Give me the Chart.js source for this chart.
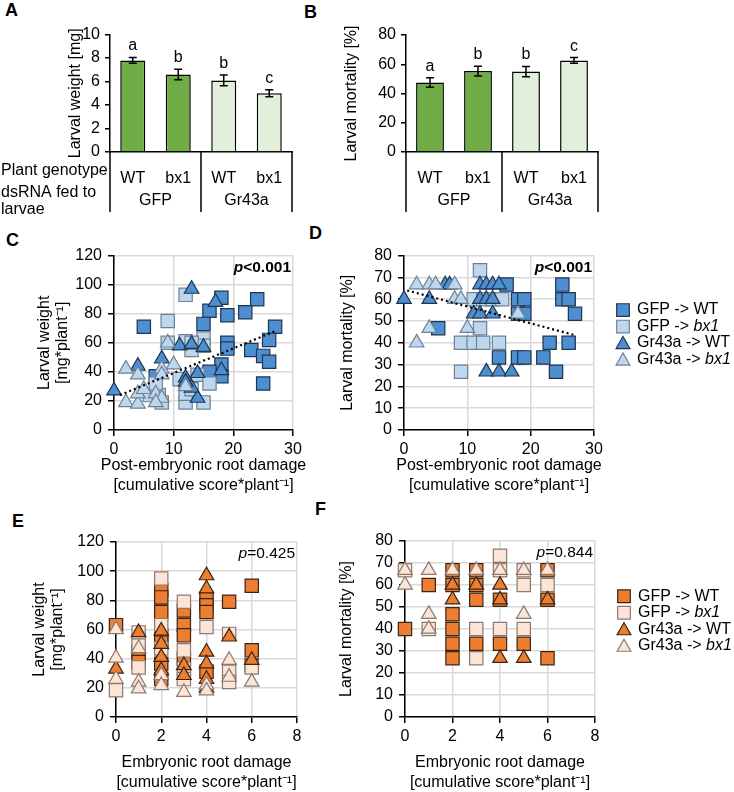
<!DOCTYPE html>
<html>
<head>
<meta charset="utf-8">
<script src="https://cdn.jsdelivr.net/npm/chart.js@4.4.1/dist/chart.umd.min.js"></script>
<style>
  body { margin: 0; background: #fff; width: 734px; height: 792px; position: relative; overflow: hidden; font-family: 'Liberation Sans', Arial, sans-serif; }
  canvas { position: absolute; }
  .tag { position: absolute; font-weight: bold; font-size: 18px; line-height: 1; }
</style>
</head>
<body>
<div class="tag" style="left:5px;top:1px">A</div>
<div class="tag" style="left:304px;top:3px">B</div>
<div class="tag" style="left:6px;top:231px">C</div>
<div class="tag" style="left:309px;top:224px">D</div>
<div class="tag" style="left:12px;top:512px">E</div>
<div class="tag" style="left:315px;top:500px">F</div>

<canvas id="chartA" width="300" height="200" style="left:0;top:20px"></canvas>
<canvas id="chartB" width="310" height="200" style="left:300px;top:20px"></canvas>
<canvas id="chartC" width="325" height="260" style="left:0;top:240px"></canvas>
<canvas id="chartD" width="409" height="260" style="left:325px;top:240px"></canvas>
<canvas id="chartE" width="325" height="267" style="left:0;top:525px"></canvas>
<canvas id="chartF" width="409" height="267" style="left:325px;top:525px"></canvas>

<script>
const FONT = "'Liberation Sans', Arial, sans-serif";
Chart.defaults.font.family = FONT;
Chart.defaults.font.size = 16;
Chart.defaults.color = '#000';

// ---- A / B: bar panels
const genotypes = ['WT', 'bx1', 'WT', 'bx1'];
const dsrna = ['GFP', 'Gr43a'];
const weightMean = [7.8, 6.6, 6.1, 5.0];
const weightErr = [0.25, 0.45, 0.45, 0.3];
const weightLetters = ['a', 'b', 'b', 'c'];
const mortMean = [47.5, 55.3, 55.0, 62.6];
const mortErr = [3.2, 3.3, 3.5, 2.0];
const mortLetters = ['a', 'b', 'b', 'c'];

// ---- legend names for scatter panels
const seriesNames = ['GFP -> WT', 'GFP -> bx1', 'Gr43a -> WT', 'Gr43a -> bx1'];

// ---- C: post-embryonic damage vs larval weight
const cGfpWt = [[5,71],[18,91],[24,90],[16,82],[19,79],[22,81],[27,71],[15,73],[26,62],[19,60],[19,56],[23,55],[25,51],[26,47],[25,32],[18,45],[18,37],[16,40],[7,37]];
const cGfpBx1 = [[12,93],[9,75],[9,60],[12,61],[13,55],[15,63],[15,58],[11,35],[14,38],[16,32],[12,19],[15,19],[12,25],[6,24],[7.5,24],[8,19],[13,28],[7,32],[13,60]];
const cGrWt = [[0,27],[4,44],[8,49],[11,58],[13,59],[15,57],[13,97],[17,88],[18,41],[12,36],[14,39],[14,22],[13,29],[12,33]];
const cGrBx1 = [[2,42],[4,38],[2,19],[4,18],[4,25],[5,28],[7,25],[8,22],[7,19],[8,42],[9,60],[10,45],[8,38],[12,30]];
const cTrend = [[1,24],[27,68]];

// ---- D: post-embryonic damage vs mortality
const dGfpWt = [[5.4,46.7],[15,33.3],[18,33.3],[19,33.3],[18,60],[19,60],[18,53.3],[19,53.3],[16.2,66.7],[25,66.7],[25,60],[26,60],[27,53.3],[23,40],[26,40],[22,33.3],[24,26.7]];
const dGfpBx1 = [[12,73.3],[11,60],[12.5,60],[14,60],[15.5,60],[12,46.7],[9,40],[11,40],[12.5,40],[15,40],[9,26.7]];
const dGrWt = [[0,60],[4,60],[11,53.3],[12,53.3],[14,53.3],[12,66.7],[13,66.7],[14,66.7],[15,66.7],[12,60],[13,60],[14,60],[13,26.7],[15,26.7],[17,26.7],[6.5,66.7],[7.2,66.7]];
const dGrBx1 = [[2,66.7],[4,66.7],[5,66.7],[8,66.7],[2,40],[4,46.7],[10,46.7],[8,60],[9,60],[18,53.3]];
const dTrend = [[0.5,64],[27,43.5]];

// ---- E: embryonic damage vs larval weight
const eGfpWt = [[0,63],[1,45],[1,37.7],[2,87],[2,82],[2,72],[2,56],[2,51],[2,36.6],[2,26],[3,73],[3,63],[3,56],[3,40],[4,81],[4,76.6],[4,72],[4,31],[5,79],[6,90],[6,45.7],[6,35.4]];
const eGfpBx1 = [[0,18.3],[1,58],[1,49],[1,34],[2,95],[2,63],[2,47],[3,79],[3,45.7],[3,33],[3,26],[4,61.7],[5,57],[5,31],[5,24],[6,34]];
const eGrWt = [[0,33],[1,58],[2,59],[2,50],[2,41],[2,32],[3,35.4],[3,28.6],[4,97],[4,88],[4,44.6],[4,36.6],[4,26],[4,20],[5,55],[6,39]];
const eGrBx1 = [[0,60],[0,40.5],[0,26],[1,47],[1,24],[1,19.4],[2,28.6],[2,21.7],[3,17],[4,22],[4,18],[5,39],[5,27.4],[6,24]];

// ---- F: embryonic damage vs mortality
const fGfpWt = [[0,40],[1,60],[2,66.7],[2,60],[2,46.7],[2,40],[2,33.3],[2,26.7],[3,66.7],[3,60],[3,53.3],[3,33.3],[4,53.3],[4,33.3],[5,33.3],[6,66.7],[6,53.3],[6,26.7]];
const fGfpBx1 = [[0,66.7],[1,40],[3,40],[3,26.7],[4,73.3],[4,66.7],[4,40],[5,66.7],[5,60],[5,40],[6,60]];
const fGrWt = [[2,60],[2,53.3],[3,60],[4,60],[4,53.3],[4,26.7],[5,26.7],[6,53.3]];
const fGrBx1 = [[0,66.7],[0,60],[1,66.7],[1,46.7],[1,40],[2,66.7],[3,66.7],[4,66.7],[5,66.7],[5,46.7],[6,66.7]];

// error bars + significance letters above the bars
const errorBars = {
  id: 'errorBars',
  afterDatasetsDraw(chart, args, opts) {
    if (!opts.err) return;
    const { ctx, scales: { y } } = chart;
    const ds = chart.data.datasets[0];
    ctx.save();
    ctx.strokeStyle = '#000';
    ctx.lineWidth = 1.5;
    ctx.fillStyle = '#000';
    ctx.font = '16px ' + FONT;
    ctx.textAlign = 'center';
    chart.getDatasetMeta(0).data.forEach((bar, i) => {
      const top = y.getPixelForValue(ds.data[i] + opts.err[i]);
      const bot = y.getPixelForValue(ds.data[i] - opts.err[i]);
      ctx.beginPath();
      ctx.moveTo(bar.x, top); ctx.lineTo(bar.x, bot);
      ctx.moveTo(bar.x - 4, top); ctx.lineTo(bar.x + 4, top);
      ctx.moveTo(bar.x - 4, bot); ctx.lineTo(bar.x + 4, bot);
      ctx.stroke();
      ctx.fillText(opts.letters[i], bar.x, top - 7);
    });
    ctx.restore();
  }
};

// the little table under the bars (dsRNA groups + separators)
const groupTable = {
  id: 'groupTable',
  afterDraw(chart, args, opts) {
    if (!opts.depth) return;
    const { ctx, chartArea: { left, right, bottom }, scales: { x } } = chart;
    const mid = (x.getPixelForValue(1) + x.getPixelForValue(2)) / 2;
    ctx.save();
    ctx.strokeStyle = '#000';
    ctx.lineWidth = 1.5;
    ctx.beginPath();
    [left, mid, right].forEach(px => { ctx.moveTo(px, bottom); ctx.lineTo(px, bottom + opts.depth); });
    ctx.stroke();
    ctx.font = '16px ' + FONT;
    ctx.fillStyle = '#000';
    ctx.textBaseline = 'middle';
    ctx.textAlign = 'center';
    dsrna.forEach((g, k) => {
      const cx = (x.getPixelForValue(2 * k) + x.getPixelForValue(2 * k + 1)) / 2;
      ctx.fillText(g, cx, bottom + opts.groupY);
    });
    ctx.textAlign = 'left';
    (opts.rows || []).forEach(r => ctx.fillText(r.text, 1, bottom + r.y));
    ctx.restore();
  }
};

// p value in the top right corner of the plot
const pLabel = {
  id: 'pLabel',
  afterDatasetsDraw(chart, args, opts) {
    if (!opts.parts) return;
    const { ctx, chartArea } = chart;
    ctx.save();
    ctx.fillStyle = '#000';
    ctx.textBaseline = 'middle';
    let w = 0;
    opts.parts.forEach(p => { ctx.font = p.f + ' 15.5px ' + FONT; w += ctx.measureText(p.t).width; });
    let x = chartArea.right - 2 - w;
    const y = chartArea.top + 12;
    opts.parts.forEach(p => {
      ctx.font = p.f + ' 15.5px ' + FONT;
      ctx.fillText(p.t, x, y);
      x += ctx.measureText(p.t).width;
    });
    ctx.restore();
  }
};

// x axis title, allowed to run wider than the plot like in the original
const xTitle = {
  id: 'xTitle',
  afterDraw(chart, args, opts) {
    if (!opts.lines) return;
    const { ctx, chartArea } = chart;
    const cx = (chartArea.left + chartArea.right) / 2;
    ctx.save();
    ctx.fillStyle = '#000';
    ctx.font = '16px ' + FONT;
    ctx.textAlign = 'center';
    ctx.textBaseline = 'middle';
    opts.lines.forEach((line, i) => ctx.fillText(line, cx, chartArea.bottom + opts.first + i * opts.gap));
    ctx.restore();
  }
};

function drawMarker(ctx, style, x, y, r, fill, stroke) {
  ctx.beginPath();
  if (style === 'rect') {
    const s = r * Math.SQRT1_2;
    ctx.rect(x - s, y - s, 2 * s, 2 * s);
  } else {
    ctx.moveTo(x, y - r);
    ctx.lineTo(x + r * Math.sin(2 * Math.PI / 3), y - r * Math.cos(2 * Math.PI / 3));
    ctx.lineTo(x + r * Math.sin(4 * Math.PI / 3), y - r * Math.cos(4 * Math.PI / 3));
    ctx.closePath();
  }
  ctx.fillStyle = fill;
  ctx.fill();
  ctx.strokeStyle = stroke;
  ctx.lineWidth = 1.2;
  ctx.stroke();
}

// legend to the right, bx1 in italics
const sideLegend = {
  id: 'sideLegend',
  afterDraw(chart, args, opts) {
    if (!opts.show) return;
    const { ctx, chartArea } = chart;
    const x0 = chartArea.right + opts.dx;
    const y0 = (chartArea.top + chartArea.bottom) / 2 - opts.up - (seriesNames.length - 1) * opts.gap / 2;
    ctx.save();
    ctx.textBaseline = 'middle';
    seriesNames.forEach((name, i) => {
      const ds = chart.data.datasets[i];
      const y = y0 + i * opts.gap;
      drawMarker(ctx, ds.pointStyle, x0, y + (ds.pointStyle === 'triangle' ? 1.5 : 0), ds.pointRadius * 0.95, ds.backgroundColor, ds.borderColor);
      let tx = x0 + 14;
      ctx.fillStyle = '#000';
      name.split(/(bx1)/).forEach(part => {
        if (!part) return;
        ctx.font = (part === 'bx1' ? 'italic ' : '') + '16px ' + FONT;
        ctx.fillText(part, tx, y);
        tx += ctx.measureText(part).width;
      });
    });
    ctx.restore();
  }
};

Chart.register(errorBars, groupTable, pLabel, xTitle, sideLegend);

function barChart(id, values, err, letters, yMax, yStep, yTitle, g) {
  return new Chart(document.getElementById(id), {
    type: 'bar',
    data: {
      labels: genotypes,
      datasets: [{
        data: values,
        backgroundColor: ['#70ad47', '#70ad47', '#e2efda', '#e2efda'],
        borderColor: '#000',
        borderWidth: 1.5,
        barPercentage: g.barPct,
        categoryPercentage: 1
      }]
    },
    options: {
      responsive: false,
      animation: false,
      events: [],
      layout: { padding: { top: g.top, right: g.right, left: 0, bottom: 0 } },
      plugins: {
        legend: { display: false },
        tooltip: { enabled: false },
        errorBars: { err: err, letters: letters },
        groupTable: { depth: 60, groupY: 49, rows: g.rows },
        pLabel: {}, xTitle: {}, sideLegend: {}
      },
      scales: {
        x: {
          grid: { display: false },
          border: { color: '#000', width: 1.5 },
          ticks: { padding: 9.4, autoSkip: false },
          afterFit: s => { s.height = 68; }
        },
        y: {
          min: 0, max: yMax,
          ticks: { stepSize: yStep, padding: 5, autoSkip: false },
          grid: { drawOnChartArea: false, tickLength: 5, tickColor: '#000', lineWidth: 1.5 },
          border: { color: '#000', width: 1.5 },
          title: { display: true, text: yTitle, font: { size: 16, lineHeight: 1.1 }, padding: { top: g.titlePad, bottom: 0 } },
          afterFit: s => { s.width = g.yW; }
        }
      }
    }
  });
}

const blues = { dark: '#4d8fd1', darkLine: '#1f3550', light: '#bdd7ee', lightLine: '#6f8093' };
const oranges = { dark: '#ed7d31', darkLine: '#3b2416', light: '#fce4d6', lightLine: '#8c7a70' };

function scatterChart(id, series, trend, pal, g) {
  const mk = (data, style, fill, line, order) => ({
    data: data,
    pointStyle: style,
    pointRadius: style === 'rect' ? 9.4 : 8.4,
    backgroundColor: fill,
    borderColor: line,
    pointBorderWidth: 1.2,
    clip: false,
    order: order
  });
  const datasets = [
    mk(series[0], 'rect', pal.dark, pal.darkLine, 4),
    mk(series[1], 'rect', pal.light, pal.lightLine, 3),
    mk(series[2], 'triangle', pal.dark, pal.darkLine, 2),
    mk(series[3], 'triangle', pal.light, pal.lightLine, 1)
  ];
  if (trend) {
    datasets.push({ data: trend, showLine: true, pointRadius: 0, borderColor: '#000', borderWidth: 2.2, borderDash: [2, 3], clip: false, order: 0 });
  }
  const grid = { color: '#d9d9d9', lineWidth: 1.5, tickColor: '#000', tickLength: 6 };
  return new Chart(document.getElementById(id), {
    type: 'scatter',
    data: { datasets: datasets },
    options: {
      responsive: false,
      animation: false,
      events: [],
      layout: { padding: { top: g.top, right: g.right, left: 0, bottom: 0 } },
      plugins: {
        legend: { display: false },
        tooltip: { enabled: false },
        errorBars: {}, groupTable: {},
        pLabel: { parts: g.p },
        xTitle: { lines: g.xTitle, first: g.xTitleY, gap: 20 },
        sideLegend: { show: g.legend, dx: 29, gap: 16.5, up: 8 }
      },
      scales: {
        x: {
          type: 'linear', min: 0, max: g.xMax,
          ticks: { stepSize: g.xStep, padding: 4.4, autoSkip: false },
          grid: grid,
          border: { color: '#000', width: 1.5 },
          afterFit: s => { s.height = g.xH; }
        },
        y: {
          min: 0, max: g.yMax,
          ticks: { stepSize: g.yStep, padding: 6, autoSkip: false },
          grid: grid,
          border: { color: '#000', width: 1.5 },
          title: { display: true, text: g.yTitle, font: { size: 16, lineHeight: 1.1 }, padding: { top: g.yTitlePad, bottom: 0 } },
          afterFit: s => { s.width = g.yW; }
        }
      }
    }
  });
}

const pBold = [{ t: 'p', f: 'bold italic' }, { t: '<0.001', f: 'bold' }];
const postTitle = ['Post-embryonic root damage', '[cumulative score*plant\u207B\u00B9]'];
const embTitle = ['Embryonic root damage', '[cumulative score*plant\u207B\u00B9]'];
const weightTitle = ['Larval weight', '[mg*plant\u207B\u00B9]'];

barChart('chartA', weightMean, weightErr, weightLetters, 10, 2, 'Larval weight [mg]', {
  top: 13, right: 8, yW: 110, barPct: 0.55, titlePad: 67,
  rows: [{ text: 'Plant genotype', y: 19 }, { text: 'dsRNA fed to', y: 41 }, { text: 'larvae', y: 58 }]
});
barChart('chartB', mortMean, mortErr, mortLetters, 80, 20, 'Larval mortality [%]', {
  top: 15, right: 12, yW: 106, barPct: 0.58, titlePad: 43.2, rows: []
});

scatterChart('chartC', [cGfpWt, cGfpBx1, cGrWt, cGrBx1], cTrend, blues, {
  top: 13, right: 32, yW: 114, xH: 70, xMax: 30, xStep: 10, yMax: 120, yStep: 20,
  xTitle: postTitle, xTitleY: 36, yTitle: weightTitle, yTitlePad: 36.2, p: pBold, legend: false
});
scatterChart('chartD', [dGfpWt, dGfpBx1, dGrWt, dGrBx1], dTrend, blues, {
  top: 13, right: 140, yW: 79, xH: 70, xMax: 30, xStep: 10, yMax: 80, yStep: 10,
  xTitle: postTitle, xTitleY: 36, yTitle: 'Larval mortality [%]', yTitlePad: 14.2, p: pBold, legend: true
});
scatterChart('chartE', [eGfpWt, eGfpBx1, eGrWt, eGrBx1], null, oranges, {
  top: 17, right: 28, yW: 116, xH: 75, xMax: 8, xStep: 2, yMax: 120, yStep: 20,
  xTitle: embTitle, xTitleY: 46, yTitle: weightTitle, yTitlePad: 31.2,
  p: [{ t: 'p', f: 'italic' }, { t: '=0.425', f: '' }], legend: false
});
scatterChart('chartF', [fGfpWt, fGfpBx1, fGrWt, fGrBx1], null, oranges, {
  top: 16, right: 139, yW: 80, xH: 75, xMax: 8, xStep: 2, yMax: 80, yStep: 10,
  xTitle: embTitle, xTitleY: 46, yTitle: 'Larval mortality [%]', yTitlePad: 13.2,
  p: [{ t: 'p', f: 'italic' }, { t: '=0.844', f: '' }], legend: true
});
</script>
</body>
</html>
